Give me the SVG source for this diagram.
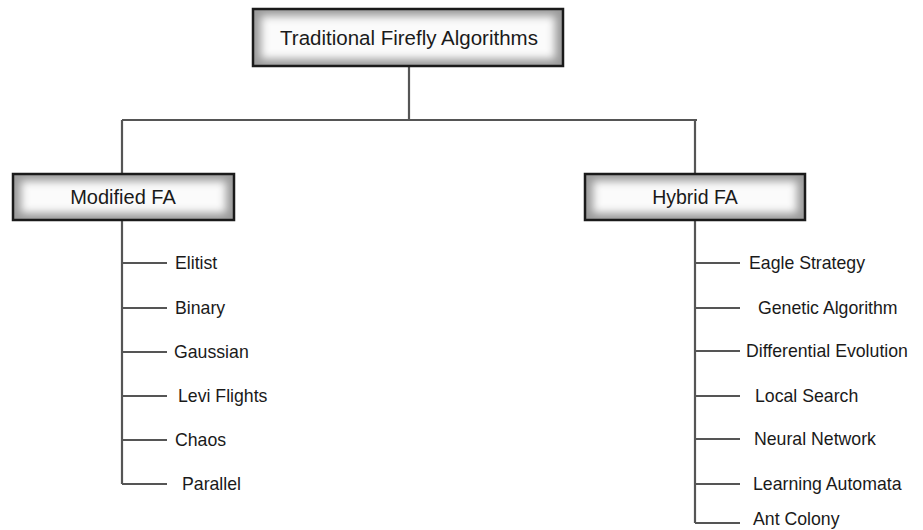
<svg xmlns="http://www.w3.org/2000/svg" width="923" height="530" viewBox="0 0 923 530">
<defs>
<filter id="soft" x="-10%" y="-30%" width="120%" height="160%">
<feGaussianBlur stdDeviation="4"/>
</filter>
<style>
.box-bg{fill:#9a9a9a}
.box-in{fill:#fbfbfb;filter:url(#soft)}
.box-border{fill:none;stroke:#1a1a1a;stroke-width:2.5}
.title{font-family:"Liberation Sans",Arial,sans-serif;fill:#1a1a1a;text-anchor:middle}
.leaf{font-family:"Liberation Sans",Arial,sans-serif;font-size:17.7px;fill:#1a1a1a}
.conn{stroke:#555;stroke-width:2.2;fill:none}
</style>
</defs>
<rect width="923" height="530" fill="#ffffff"/>

<g id="connectors">
<path class="conn" d="M409 66 V120 M122 120 H697 M122 120 V174 M695 120 V174"/>
<path class="conn" d="M122 220 V484 M122 263 H167 M122 308 H167 M122 352 H167 M122 396 H167 M122 440 H167 M122 484 H167"/>
<path class="conn" d="M695 220 V523 M695 263 H740 M695 308 H740 M695 351 H740 M695 396 H740 M695 439 H740 M695 484 H740 M695 523 H740"/>
</g>

<g id="node-root">
<rect class="box-bg" x="253" y="9" width="310" height="57"/>
<rect class="box-in" x="261" y="16" width="294" height="43"/>
<rect class="box-border" x="253" y="9" width="310" height="57"/>
<text class="title" x="409" y="45" font-size="20.5">Traditional Firefly Algorithms</text>
</g>

<g id="node-modified">
<rect class="box-bg" x="13" y="174" width="221" height="46"/>
<rect class="box-in" x="21" y="181" width="205" height="32"/>
<rect class="box-border" x="13" y="174" width="221" height="46"/>
<text class="title" x="123" y="204" font-size="20">Modified FA</text>
</g>

<g id="node-hybrid">
<rect class="box-bg" x="585" y="174" width="220" height="46"/>
<rect class="box-in" x="593" y="181" width="204" height="32"/>
<rect class="box-border" x="585" y="174" width="220" height="46"/>
<text class="title" x="695" y="204" font-size="19.5">Hybrid FA</text>
</g>

<g id="leaves-modified">
<text class="leaf" x="175" y="269">Elitist</text>
<text class="leaf" x="175" y="314">Binary</text>
<text class="leaf" x="174" y="358">Gaussian</text>
<text class="leaf" x="178" y="402">Levi Flights</text>
<text class="leaf" x="175" y="446">Chaos</text>
<text class="leaf" x="182" y="490">Parallel</text>
</g>

<g id="leaves-hybrid">
<text class="leaf" x="749" y="269">Eagle Strategy</text>
<text class="leaf" x="758" y="314">Genetic Algorithm</text>
<text class="leaf" x="746" y="357">Differential Evolution</text>
<text class="leaf" x="755" y="402">Local Search</text>
<text class="leaf" x="754" y="445">Neural Network</text>
<text class="leaf" x="753" y="490">Learning Automata</text>
<text class="leaf" x="753" y="525">Ant Colony</text>
</g>
</svg>
